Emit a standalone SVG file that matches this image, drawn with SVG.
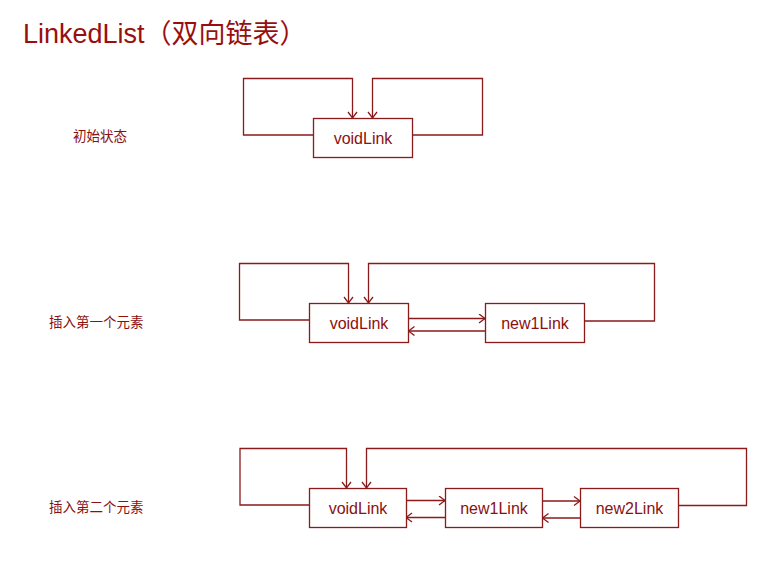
<svg xmlns="http://www.w3.org/2000/svg" width="763" height="565" viewBox="0 0 763 565">
<defs>
<style>
.box{fill:#fff;stroke:#8b1a1a;stroke-width:1.3}
.ln{fill:none;stroke:#8b1a1a;stroke-width:1.3}
.t{font-family:"Liberation Sans",Arial,sans-serif;font-size:16px;fill:#8b1010;text-anchor:middle}
.lb{font-family:"Liberation Sans","Noto Sans CJK SC",sans-serif;font-size:13.5px;fill:#8b1010}
.title{font-family:"Liberation Sans","Noto Sans CJK SC",sans-serif;font-size:27px;fill:#990f0f}
</style>
<marker id="a" markerWidth="12" markerHeight="12" refX="7" refY="5" orient="auto" markerUnits="userSpaceOnUse" viewBox="0 0 12 12">
<path d="M1,0.5 L7,5 L1,9.5" fill="none" stroke="#8b1a1a" stroke-width="1.3"/>
</marker>
</defs>
<rect width="763" height="565" fill="#fff"/>
<text class="title" x="23" y="43">LinkedList（双向链表）</text>
<text class="lb" x="73" y="141">初始状态</text>
<text class="lb" x="49" y="327">插入第一个元素</text>
<text class="lb" x="49" y="512">插入第二个元素</text>
<g id="connectors">
<path class="ln" d="M313,135 H243.5 V78.5 H352.5 V118" marker-end="url(#a)"/>
<path class="ln" d="M412.5,135 H482.5 V78.5 H372.5 V118" marker-end="url(#a)"/>
<path class="ln" d="M309,320 H239.5 V263.5 H348.5 V303" marker-end="url(#a)"/>
<path class="ln" d="M584.5,321 H654.5 V263.5 H368.5 V303" marker-end="url(#a)"/>
<path class="ln" d="M408.5,318.5 H485" marker-end="url(#a)"/>
<path class="ln" d="M485.5,331 H408.5" marker-end="url(#a)"/>
<path class="ln" d="M309,505 H240 V448.5 H346.5 V488" marker-end="url(#a)"/>
<path class="ln" d="M678.5,505.5 H746.5 V448.5 H366.5 V488" marker-end="url(#a)"/>
<path class="ln" d="M406,500.5 H445" marker-end="url(#a)"/>
<path class="ln" d="M445,517.5 H406" marker-end="url(#a)"/>
<path class="ln" d="M542.5,501 H580" marker-end="url(#a)"/>
<path class="ln" d="M580,518 H542.5" marker-end="url(#a)"/>
</g>
<g id="void0"><rect class="box" x="313.5" y="118.5" width="99" height="39"/><text class="t" x="363" y="143.5">voidLink</text></g>
<g id="void1"><rect class="box" x="309.5" y="303.5" width="99" height="39"/><text class="t" x="359" y="328.5">voidLink</text></g>
<g id="new1a"><rect class="box" x="485.5" y="303.5" width="99" height="39"/><text class="t" x="535" y="328.5">new1Link</text></g>
<g id="void2"><rect class="box" x="309.5" y="488.5" width="97" height="39"/><text class="t" x="358" y="513.5">voidLink</text></g>
<g id="new1b"><rect class="box" x="445.5" y="488.5" width="97" height="39"/><text class="t" x="494" y="513.5">new1Link</text></g>
<g id="new2"><rect class="box" x="580.5" y="488.5" width="98" height="39"/><text class="t" x="629.5" y="513.5">new2Link</text></g>
</svg>
